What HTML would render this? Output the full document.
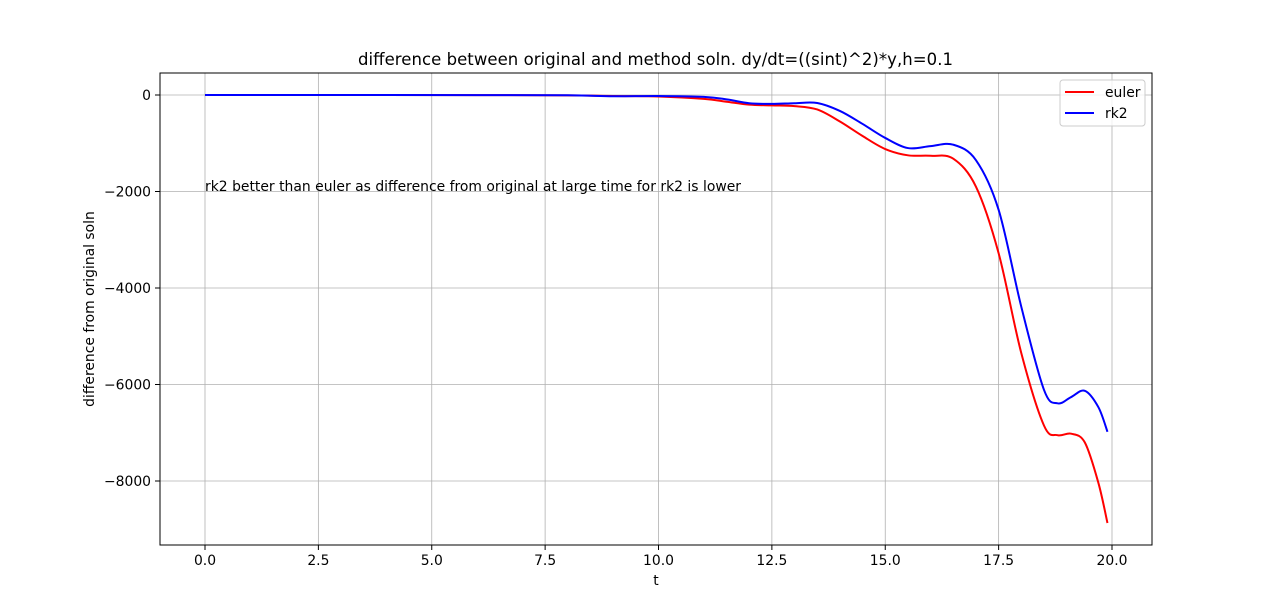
<!DOCTYPE html>
<html><head><meta charset="utf-8"><style>
body{margin:0;background:#fff;}
svg{display:block;font-family:"DejaVu Sans","Liberation Sans",sans-serif;}
</style></head><body>
<svg id="chart" width="1280" height="612" viewBox="0 0 1280 612">
<g id="grid"></g>
<g id="series"></g>
<rect x="160" y="73" width="992" height="472" fill="none" stroke="#000" stroke-width="1"/>
<g id="ticks"></g>
<text x="655.5" y="65" font-size="16.5" text-anchor="middle" textLength="595">difference between original and method soln. dy/dt=((sint)^2)*y,h=0.1</text>
<text x="656" y="585" font-size="13.9" text-anchor="middle">t</text>
<text x="94" y="309" font-size="13.9" text-anchor="middle" transform="rotate(-90 94 309)">difference from original soln</text>
<text x="205" y="191" font-size="13.9" textLength="536">rk2 better than euler as difference from original at large time for rk2 is lower</text>
<g>
<rect x="1060" y="80" width="85" height="46" rx="3" fill="#fff" fill-opacity="0.8" stroke="#ccc"/>
<line x1="1065" y1="92" x2="1094" y2="92" stroke="red" stroke-width="2"/>
<text x="1105" y="97" font-size="13.9">euler</text>
<line x1="1065" y1="113" x2="1094" y2="113" stroke="blue" stroke-width="2"/>
<text x="1105" y="118" font-size="13.9">rk2</text>
</g>
</svg>
<script>
const tVals=[0,2,4,6,8,9,10,11,11.5,12,12.5,13,13.5,14,14.5,15,15.5,16,16.5,17,17.5,18,18.5,18.8,19.1,19.4,19.7,19.9];
const eulerVals=[0,0,0,-2,-8,-20,-30,-80,-140,-200,-215,-230,-300,-550,-850,-1120,-1250,-1260,-1320,-1900,-3280,-5350,-6850,-7050,-7020,-7200,-8040,-8870];
const rk2Vals=[0,0,0,-2,-6,-25,-20,-40,-90,-170,-185,-170,-165,-330,-600,-890,-1100,-1060,-1030,-1350,-2380,-4390,-6110,-6390,-6260,-6130,-6470,-6980];
const xTicks=[0,2.5,5,7.5,10,12.5,15,17.5,20];
const yTicks=[0,-2000,-4000,-6000,-8000];
const NS="http://www.w3.org/2000/svg";
const X=t=>205+t*(1112-205)/20;
const Y=v=>95-v*(481-95)/8000;
function mk(tag,attrs,parent){const e=document.createElementNS(NS,tag);for(const k in attrs)e.setAttribute(k,attrs[k]);parent.appendChild(e);return e;}
const grid=document.getElementById('grid'),ticks=document.getElementById('ticks'),series=document.getElementById('series');
xTicks.forEach(t=>{
 const x=X(t);
 const g=mk('line',{x1:x,x2:x,y1:73,y2:545,stroke:'#b0b0b0','stroke-width':0.8},grid);
 
 
 const tk=mk('line',{x1:x,x2:x,y1:545,y2:550,stroke:'#000'},ticks);
 
 
 const tx=mk('text',{x:x,y:565,'font-size':13.9,'text-anchor':'middle'},ticks);
 tx.textContent=t.toFixed(1);
 
 
});
yTicks.forEach(v=>{
 const y=Y(v);
 const g=mk('line',{x1:160,x2:1152,y1:y,y2:y,stroke:'#b0b0b0','stroke-width':0.8},grid);
 
 
 const tk=mk('line',{x1:155,x2:160,y1:y,y2:y,stroke:'#000'},ticks);
 
 
 const tx=mk('text',{x:151,y:y+5,'font-size':13.9,'text-anchor':'end'},ticks);
 tx.textContent=v<0?'\u2212'+(-v):String(v);
 
 
});
function pathFor(vals){
 const p=tVals.map((t,i)=>[X(t),Y(vals[i])]);
 let d='M'+p[0][0]+','+p[0][1];
 for(let i=0;i<p.length-1;i++){
  const p0=p[Math.max(0,i-1)],p1=p[i],p2=p[i+1],p3=p[Math.min(p.length-1,i+2)];
  const c1=[p1[0]+(p2[0]-p0[0])/6,p1[1]+(p2[1]-p0[1])/6];
  const c2=[p2[0]-(p3[0]-p1[0])/6,p2[1]-(p3[1]-p1[1])/6];
  d+='C'+c1+' '+c2+' '+p2;
 }
 return d;
}
const e=mk('path',{d:pathFor(eulerVals),fill:'none',stroke:'red','stroke-width':2},series);


const r=mk('path',{d:pathFor(rk2Vals),fill:'none',stroke:'blue','stroke-width':2},series);


</script>
</body></html>
